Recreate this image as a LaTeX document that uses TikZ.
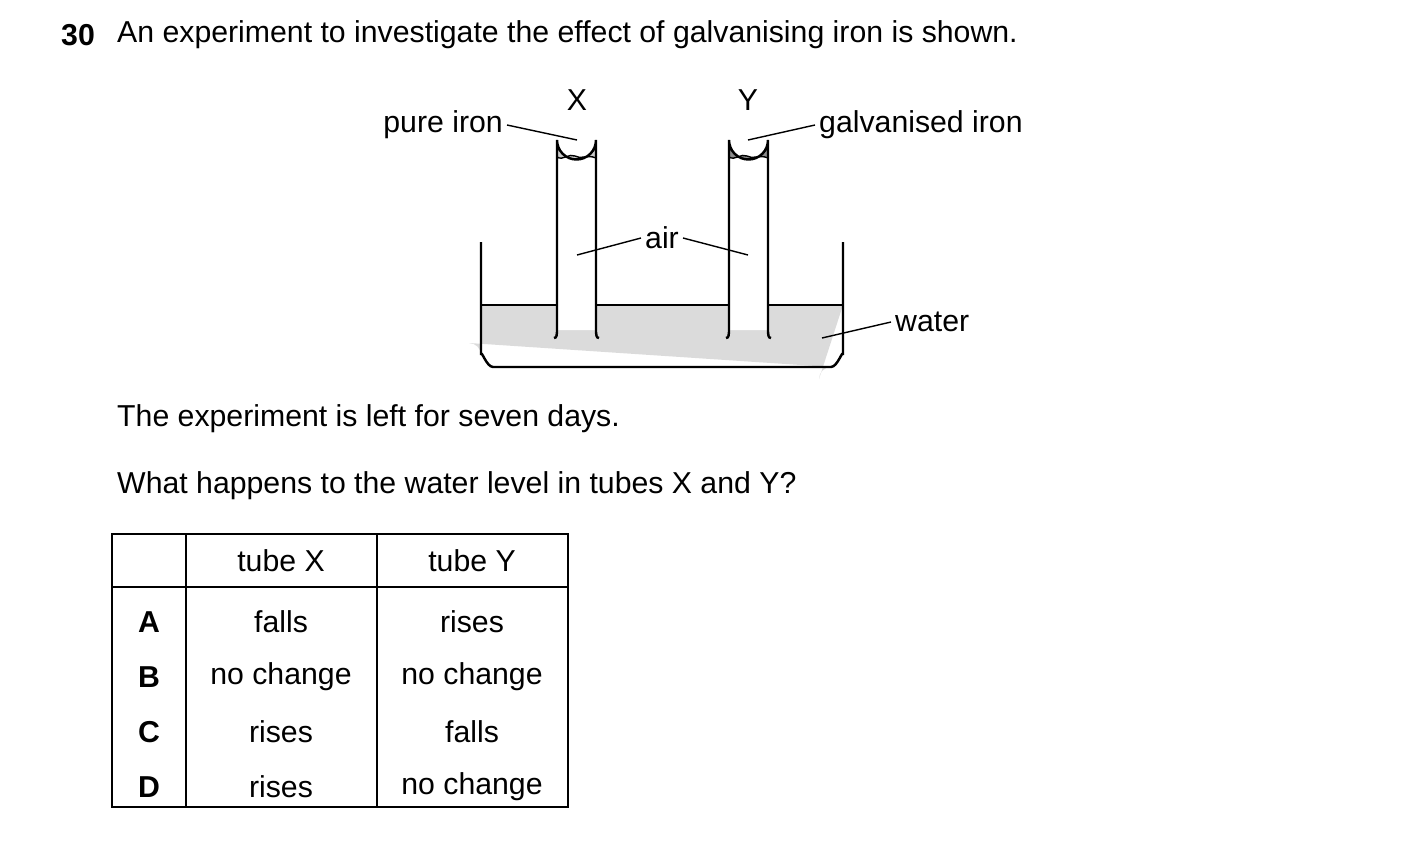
\documentclass[tikz,border=0pt]{standalone}
\usepackage{fontspec}
\setmainfont{Liberation Sans}
\usetikzlibrary{calc,positioning}
\definecolor{waterfill}{gray}{0.86}
\definecolor{ironfill}{gray}{0.80}
\definecolor{galvfill}{gray}{0.55}
\begin{document}
\begin{tikzpicture}[x=0.01cm, y=-0.01cm, font=\fontsize{8.6}{10}\selectfont,
    glass/.style={line width=0.7pt},
    leader/.style={line width=0.4pt},
    lbl/.style={inner sep=1pt},
    cell/.style={inner sep=0pt}
  ]
    \useasboundingbox (0,0) rectangle (1403,854);
    % question text
    \node[lbl, anchor=west] (num) at (57,35) {\textbf{30}};
    \node[lbl, anchor=west] (q1) at (113,35) {An experiment to investigate the effect of galvanising iron is shown.};

    % water in the beaker
    \fill[waterfill] (481,305) -- (481,355) arc[start angle=180, end angle=90, radius=-12] -- (831,367)
      arc[start angle=90, end angle=0, radius=-12] -- (843,305) -- cycle;
    \draw[glass] (481,242) -- (481,355) to[out=90,in=180] (493,367) -- (831,367) to[out=0,in=90] (843,355) -- (843,242);
    \draw[glass] (481,305) -- (843,305);

    % tubes: \x = left wall, iron fill colour
    \foreach \x/\col in {557/ironfill, 729/galvfill} {
      \fill[white] (\x,140) arc[start angle=180, end angle=0, radius=19.5] -- (\x+39,330) -- (\x,330) -- cycle;
      \fill[\col] (\x,140) arc[start angle=180, end angle=0, radius=19.5] -- (\x+39,158)
        .. controls (\x+30,154) and (\x+24,160) .. (\x+18,156) .. controls (\x+12,153) and (\x+6,161) .. (\x,157) -- cycle;
      \draw[leader] (\x,157) .. controls (\x+6,161) and (\x+12,153) .. (\x+18,156) .. controls (\x+24,160) and (\x+30,154) .. (\x+39,158);
      \draw[glass] (\x-3,338) to[out=0,in=-90] (\x,332) -- (\x,140) arc[start angle=180, end angle=0, radius=19.5]
        -- (\x+39,332) to[out=-90,in=180] (\x+42,338);
    }

    % labels
    \node[lbl] (X) at (577,100) {X};
    \node[lbl] (Y) at (748,100) {Y};
    \node[lbl, anchor=east] (pure) at (507,125) {pure iron};
    \node[lbl, anchor=west] (galv) at (815,125) {galvanised iron};
    \node[lbl] (air) at (662,238) {air};
    \node[lbl, anchor=west] (water) at (891,322) {water};
    \coordinate (pureend) at (577,140);
    \coordinate (galvend) at (748,140);
    \coordinate (airX) at (577,255);
    \coordinate (airY) at (748,255);
    \coordinate (waterend) at (822,338);
    \draw[leader] (pure.east) -- (pureend);
    \draw[leader] (galv.west) -- (galvend);
    \draw[leader] (air.west) -- (airX);
    \draw[leader] (air.east) -- (airY);
    \draw[leader] (water.west) -- (waterend);

    \node[lbl, anchor=west] (q2) at (113,419) {The experiment is left for seven days.};
    \node[lbl, anchor=west] (q3) at (113,486) {What happens to the water level in tubes X and Y?};

    % answer table
    \draw[line width=0.5pt] (112,534) rectangle (568,807);
    \draw[line width=0.5pt] (112,587) -- (568,587);
    \foreach \x in {186,377} \draw[line width=0.5pt] (\x,534) -- (\x,807);
    \node[cell] (hX) at (281,561) {tube X};
    \node[cell] (hY) at (472,561) {tube Y};
    \foreach \k/\a/\b/\y in {A/falls/rises/622, B/no change/no change/677, C/rises/falls/732, D/rises/no change/787} {
      \node[cell] (k\k) at (149,\y) {\textbf{\k}};
      \node[cell] (x\k) at (281,\y) {\a};
      \node[cell] (y\k) at (472,\y) {\b};
    }
\end{tikzpicture}
\end{document}
